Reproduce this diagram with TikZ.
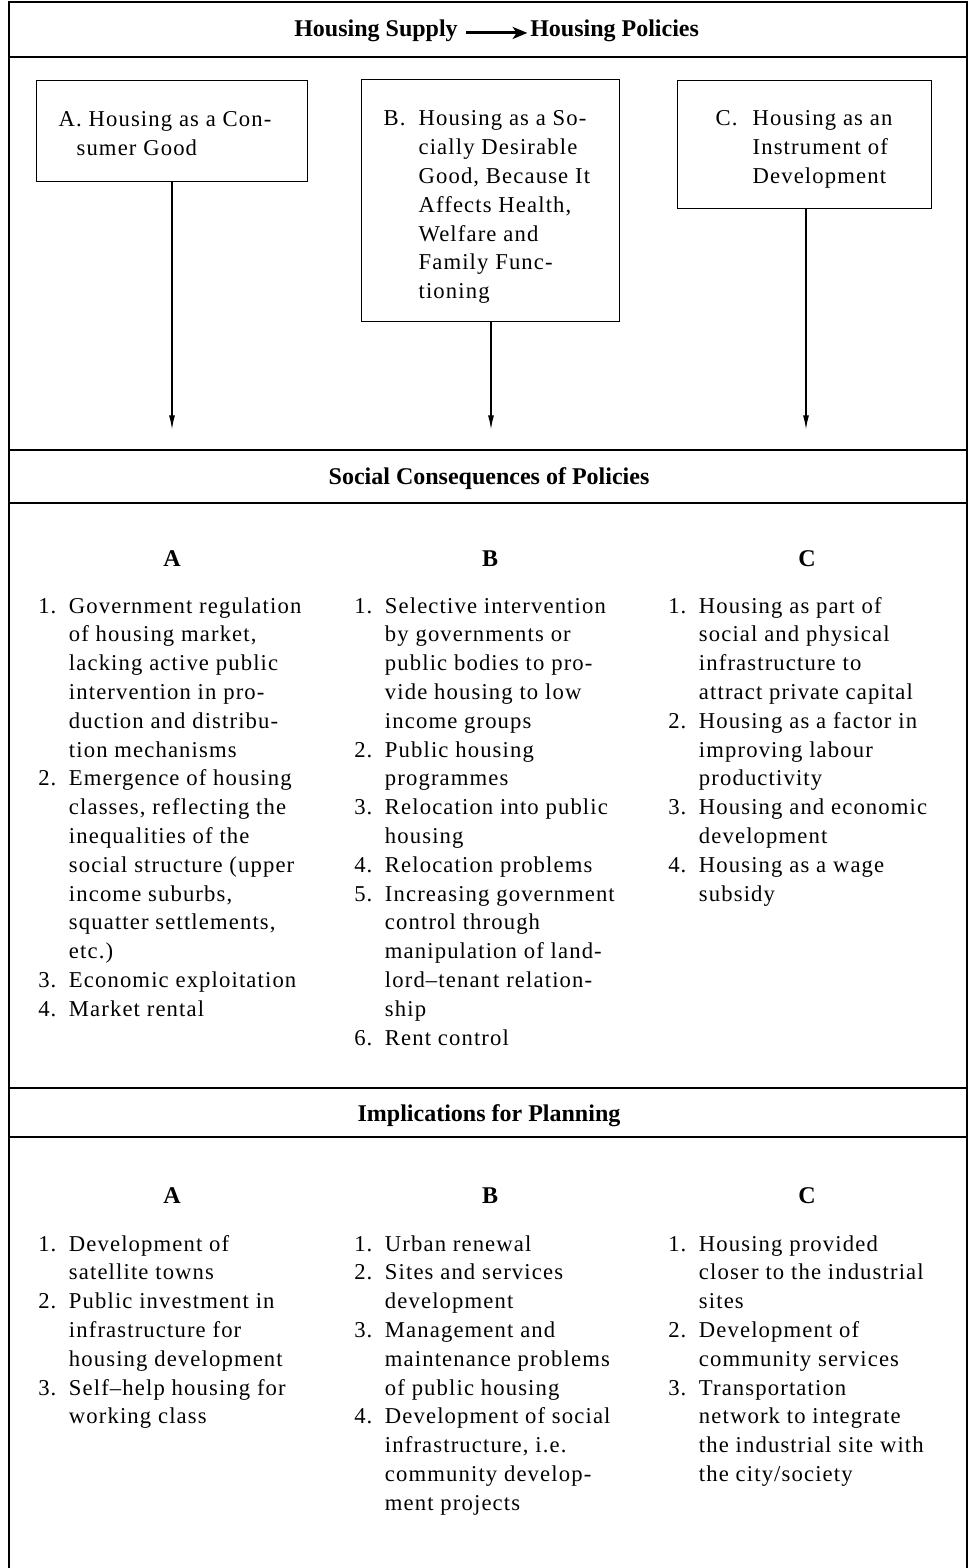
\documentclass[tikz,border=0pt]{standalone}
\usepackage{fontspec}
\setmainfont{Liberation Serif}[LetterSpace=5]
\newfontfamily\headfont{Liberation Serif}
\usetikzlibrary{arrows.meta}
\tikzset{
  framerule/.style={line width=1.1pt},
  banner/.style={anchor=base, inner sep=0pt, font=\headfont\bfseries\fontsize{18pt}{21.6pt}\selectfont},
  colhd/.style={banner},
  polbox/.style={draw, line width=0.9pt, anchor=north west, inner xsep=16.5pt, inner ysep=0pt,
                 font=\fontsize{17pt}{21.6pt}\selectfont},
  itemlist/.style={anchor=base west, inner sep=0pt, font=\fontsize{17pt}{21.6pt}\selectfont},
  polarrow/.style={-{Latex[length=11pt,width=4.5pt]}, line width=1.2pt},
  titlearrow/.style={-{Stealth[length=11pt,width=9pt,inset=3pt]}, line width=2.2pt,
                     shorten <=6pt, shorten >=2pt}
}

\begin{document}
\begin{tikzpicture}[x=0.75pt, y=-0.75pt]
\useasboundingbox (0,0) rectangle (971,1568);

% frame and section rules
\draw[framerule] (9,1568) -- (9,2) -- (967,2) -- (967,1568);
\foreach \y in {57,450,503,1088,1137}
  \draw[framerule] (9,\y) -- (967,\y);

% title
\node[banner, anchor=base east] (supply) at (458,36) {Housing Supply};
\node[banner, anchor=base west] (policies) at (530,36) {Housing Policies};
\draw[titlearrow] (supply.mid east) -- (policies.mid west);

% policy boxes
\node[polbox, minimum height=75.75pt] (boxA) at (36,80)
  {\makebox[170.25pt][l]{\begin{tabular}[t]{@{}p{22.5pt}@{}l@{}}
   \rule{0pt}{21pt}A. & Housing as a Con-\\
      & \hspace*{-9pt}sumer Good
   \end{tabular}}};
\node[polbox, minimum height=181.5pt] (boxB) at (361,79)
  {\makebox[160.5pt][l]{\begin{tabular}[t]{@{}p{26.25pt}@{}l@{}}
   \rule{0pt}{24pt}B. & Housing as a So-\\
      & cially Desirable\\
      & Good, Because It\\
      & Affects Health,\\
      & Welfare and\\
      & Family Func-\\
      & tioning
   \end{tabular}}};
\node[polbox, inner xsep=28.5pt, minimum height=96pt] (boxC) at (677,80)
  {\makebox[133.5pt][l]{\begin{tabular}[t]{@{}p{27.75pt}@{}l@{}}
   \rule{0pt}{21pt}C. & Housing as an\\
      & Instrument of\\
      & Development
   \end{tabular}}};

\coordinate (tipA) at (172,430);
\coordinate (tipB) at (491,430);
\coordinate (tipC) at (806,430);
\draw[polarrow] (tipA |- boxA.south) -- (tipA);
\draw[polarrow] (tipB |- boxB.south) -- (tipB);
\draw[polarrow] (tipC |- boxC.south) -- (tipC);

% social consequences
\node[banner] (conshd) at (489,484) {Social Consequences of Policies};
\node[colhd] (consA) at (172,566) {A};
\node[colhd] (consB) at (490,566) {B};
\node[colhd] (consC) at (807,566) {C};

\node[itemlist] (consAlist) at (38,613) {\begin{tabular}[t]{@{}p{23pt}@{}l@{}}
  1. & Government regulation\\
     & of housing market,\\
     & lacking active public\\
     & intervention in pro-\\
     & duction and distribu-\\
     & tion mechanisms\\
  2. & Emergence of housing\\
     & classes, reflecting the\\
     & inequalities of the\\
     & social structure (upper\\
     & income suburbs,\\
     & squatter settlements,\\
     & etc.)\\
  3. & Economic exploitation\\
  4. & Market rental
  \end{tabular}};
\node[itemlist] (consBlist) at (354,613) {\begin{tabular}[t]{@{}p{23pt}@{}l@{}}
  1. & Selective intervention\\
     & by governments or\\
     & public bodies to pro-\\
     & vide housing to low\\
     & income groups\\
  2. & Public housing\\
     & programmes\\
  3. & Relocation into public\\
     & housing\\
  4. & Relocation problems\\
  5. & Increasing government\\
     & control through\\
     & manipulation of land-\\
     & lord--tenant relation-\\
     & ship\\
  6. & Rent control
  \end{tabular}};
\node[itemlist] (consClist) at (668,613) {\begin{tabular}[t]{@{}p{23pt}@{}l@{}}
  1. & Housing as part of\\
     & social and physical\\
     & infrastructure to\\
     & attract private capital\\
  2. & Housing as a factor in\\
     & improving labour\\
     & productivity\\
  3. & Housing and economic\\
     & development\\
  4. & Housing as a wage\\
     & subsidy
  \end{tabular}};

% implications for planning
\node[banner] (planhd) at (489,1121) {Implications for Planning};
\node[colhd] (planA) at (172,1203) {A};
\node[colhd] (planB) at (490,1203) {B};
\node[colhd] (planC) at (807,1203) {C};

\node[itemlist] (planAlist) at (38,1251) {\begin{tabular}[t]{@{}p{23pt}@{}l@{}}
  1. & Development of\\
     & satellite towns\\
  2. & Public investment in\\
     & infrastructure for\\
     & housing development\\
  3. & Self--help housing for\\
     & working class
  \end{tabular}};
\node[itemlist] (planBlist) at (354,1251) {\begin{tabular}[t]{@{}p{23pt}@{}l@{}}
  1. & Urban renewal\\
  2. & Sites and services\\
     & development\\
  3. & Management and\\
     & maintenance problems\\
     & of public housing\\
  4. & Development of social\\
     & infrastructure, i.e.\\
     & community develop-\\
     & ment projects
  \end{tabular}};
\node[itemlist] (planClist) at (668,1251) {\begin{tabular}[t]{@{}p{23pt}@{}l@{}}
  1. & Housing provided\\
     & closer to the industrial\\
     & sites\\
  2. & Development of\\
     & community services\\
  3. & Transportation\\
     & network to integrate\\
     & the industrial site with\\
     & the city/society
  \end{tabular}};
\end{tikzpicture}
\end{document}
